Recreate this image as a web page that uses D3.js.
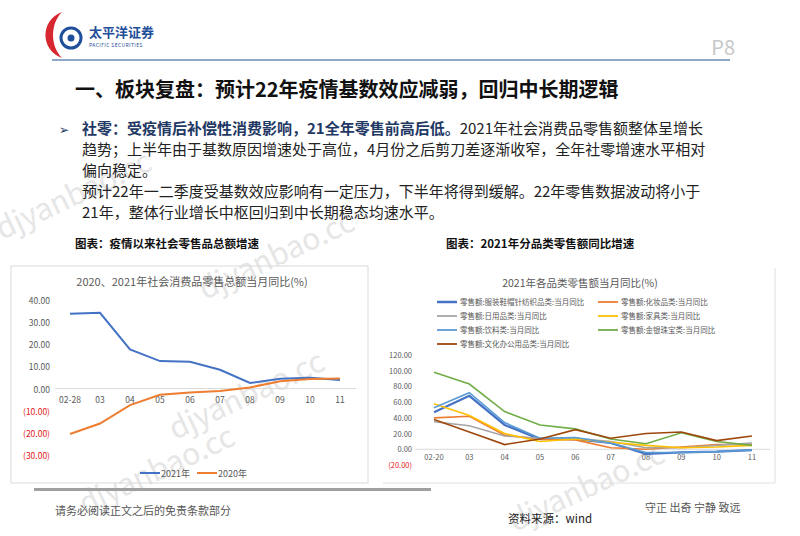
<!DOCTYPE html>
<html lang="zh">
<head>
<meta charset="UTF-8">
<title>板块复盘</title>
<script src="https://d3js.org/d3.v7.min.js"></script>
<style>
  body { margin: 0; background: #fff; }
  text { font-family: "Noto Sans CJK SC", "Noto Sans", sans-serif; }
</style>
</head>
<body>
<svg id="page" width="800" height="536"></svg>
<script>
  // 左图数据
  const monthsL = ["02-28", "03", "04", "05", "06", "07", "08", "09", "10", "11"];
  const y2021 = [33.8, 34.2, 17.7, 12.4, 12.1, 8.5, 2.5, 4.4, 4.9, 3.9];
  const y2020 = [-20.5, -15.8, -7.5, -2.8, -1.8, -1.1, 0.5, 3.3, 4.3, 4.6];
  const ticksL = [40, 30, 20, 10, 0, -10, -20, -30];

  // 右图数据
  const monthsR = ["02-20", "03", "04", "05", "06", "07", "08", "09", "10", "11"];
  const catNames = [
    "零售额:服装鞋帽针纺织品类:当月同比", "零售额:化妆品类:当月同比",
    "零售额:日用品类:当月同比", "零售额:家具类:当月同比",
    "零售额:饮料类:当月同比", "零售额:金银珠宝类:当月同比",
    "零售额:文化办公用品类:当月同比"
  ];
  const catColors = ["#4472c4", "#ed7d31", "#a5a5a5", "#ffc000", "#5b9bd5", "#70ad47", "#9e480e"];
  const catValues = [
    [47, 68, 31, 13, 13, 8, -6, -4, -3, -1],
    [40, 42, 18, 13, 12, 2, 0, 3, 6, 6],
    [35, 30, 17, 14, 14, 10, 2, 2, 5, 8],
    [58, 43, 20, 10, 13, 9, 5, 2, 3, 5],
    [53, 72, 34, 14, 15, 8, -4, -4, -3, -1],
    [98, 83, 48, 31, 26, 13, 7, 21, 10, 5],
    [38, 22, 6, 13, 25, 14, 20, 22, 11, 17]
  ];
  const ticksR = [120, 100, 80, 60, 40, 20, 0, -20];

  const svg = d3.select("#page");
  const fmt = v => v < 0 ? "(" + Math.abs(v).toFixed(2) + ")" : v.toFixed(2);

  // 水印
  [[2, 240], [205, 300], [175, 440], [85, 515], [515, 532]].forEach(([x, y]) => {
    svg.append("text").attr("transform", `translate(${x},${y}) rotate(-25)`)
      .attr("font-size", 30).attr("fill", "#e6e6e6").attr("font-family", "Arial, sans-serif")
      .text("djyanbao.cc");
  });

  // 页眉
  svg.append("path").attr("d", "M62,12 C40,20 40,50 62,58 C50,46 50,24 62,12Z").attr("fill", "#d7282f");
  svg.append("circle").attr("cx", 71).attr("cy", 38).attr("r", 10).attr("fill", "none").attr("stroke", "#1f4e9a").attr("stroke-width", 3);
  svg.append("circle").attr("cx", 71).attr("cy", 38).attr("r", 3.5).attr("fill", "#1f4e9a");
  svg.append("text").attr("x", 89).attr("y", 37).attr("font-size", 13).attr("font-weight", "bold").attr("fill", "#1f4e9a").text("太平洋证券");
  svg.append("text").attr("x", 89).attr("y", 47).attr("font-size", 5).attr("letter-spacing", 0.4).attr("fill", "#1f4e9a").text("PACIFIC SECURITIES");
  svg.append("text").attr("x", 735).attr("y", 55).attr("text-anchor", "end").attr("font-size", 20).attr("fill", "#c8c8c8").text("P8");
  svg.append("line").attr("x1", 52).attr("x2", 730).attr("y1", 60).attr("y2", 60).attr("stroke", "#8ea9c8").attr("stroke-width", 2);

  svg.append("text").attr("x", 75).attr("y", 97).attr("font-size", 20).attr("font-weight", "bold").attr("fill", "#111")
    .text("一、板块复盘：预计22年疫情基数效应减弱，回归中长期逻辑");

  // 正文
  svg.append("text").attr("x", 59).attr("y", 134).attr("font-size", 12).attr("fill", "#1f3864").text("➢");
  const body = svg.append("text").attr("font-size", 15).attr("fill", "#222");
  const l1 = body.append("tspan").attr("x", 82).attr("y", 134);
  l1.append("tspan").attr("font-weight", "bold").attr("fill", "#1f3864").text("社零：受疫情后补偿性消费影响，21全年零售前高后低。");
  l1.append("tspan").text("2021年社会消费品零售额整体呈增长");
  ["趋势；上半年由于基数原因增速处于高位，4月份之后剪刀差逐渐收窄，全年社零增速水平相对",
   "偏向稳定。",
   "预计22年一二季度受基数效应影响有一定压力，下半年将得到缓解。22年零售数据波动将小于",
   "21年，整体行业增长中枢回归到中长期稳态均速水平。"].forEach((t, i) => {
    body.append("tspan").attr("x", 82).attr("y", 155 + i * 21).text(t);
  });

  svg.append("text").attr("x", 75).attr("y", 248).attr("font-size", 11.5).attr("font-weight", "bold").attr("fill", "#111").text("图表：疫情以来社会零售品总额增速");
  svg.append("text").attr("x", 446).attr("y", 248).attr("font-size", 11.5).attr("font-weight", "bold").attr("fill", "#111").text("图表：2021年分品类零售额同比增速");

  // 左图
  svg.append("rect").attr("x", 11).attr("y", 266).attr("width", 357).attr("height", 217).attr("fill", "none").attr("stroke", "#d9d9d9");
  svg.append("text").attr("x", 192).attr("y", 286).attr("text-anchor", "middle").attr("font-size", 11).attr("fill", "#595959").text("2020、2021年社会消费品零售总额当月同比(%)");
  const xL = d3.scalePoint().domain(monthsL).range([70, 340]);
  const yL = d3.scaleLinear().domain([-30, 40]).range([455, 300]);
  ticksL.forEach(t => {
    svg.append("text").attr("x", 50).attr("y", yL(t) + 4).attr("text-anchor", "end").attr("font-size", 8.5)
      .attr("fill", t < 0 ? "#e02020" : "#595959").text(fmt(t));
  });
  svg.append("line").attr("x1", 55).attr("x2", 356).attr("y1", yL(0)).attr("y2", yL(0)).attr("stroke", "#d9d9d9");
  monthsL.forEach(m => svg.append("text").attr("x", xL(m)).attr("y", yL(0) + 14).attr("text-anchor", "middle").attr("font-size", 8.5).attr("fill", "#595959").text(m));
  const lineL = d3.line().x((d, i) => xL(monthsL[i])).y(d => yL(d));
  svg.append("path").attr("d", lineL(y2021)).attr("fill", "none").attr("stroke", "#4472c4").attr("stroke-width", 2);
  svg.append("path").attr("d", lineL(y2020)).attr("fill", "none").attr("stroke", "#ed7d31").attr("stroke-width", 2);
  [["2021年", "#4472c4", 140], ["2020年", "#ed7d31", 197]].forEach(([n, c, x]) => {
    svg.append("line").attr("x1", x).attr("x2", x + 20).attr("y1", 473).attr("y2", 473).attr("stroke", c).attr("stroke-width", 2);
    svg.append("text").attr("x", x + 21).attr("y", 477).attr("font-size", 9).attr("fill", "#595959").text(n);
  });

  // 右图
  svg.append("line").attr("x1", 383).attr("x2", 775).attr("y1", 483).attr("y2", 483).attr("stroke", "#e0e0e0");
  svg.append("line").attr("x1", 775).attr("x2", 775).attr("y1", 268).attr("y2", 483).attr("stroke", "#e0e0e0");
  svg.append("text").attr("x", 580).attr("y", 287).attr("text-anchor", "middle").attr("font-size", 10.5).attr("fill", "#595959").text("2021年各品类零售额当月同比(%)");
  catNames.forEach((n, i) => {
    const x = i % 2 === 0 ? 437 : 598, y = 302 + Math.floor(i / 2) * 14;
    svg.append("line").attr("x1", x).attr("x2", x + 20).attr("y1", y).attr("y2", y).attr("stroke", catColors[i]).attr("stroke-width", i === 0 ? 2.5 : 1.8);
    svg.append("text").attr("x", x + 23).attr("y", y + 3).attr("font-size", 7.5).attr("fill", "#595959").text(n);
  });
  const xR = d3.scalePoint().domain(monthsR).range([434, 752]);
  const yR = d3.scaleLinear().domain([-20, 120]).range([465, 355]);
  ticksR.forEach(t => {
    svg.append("text").attr("x", 412).attr("y", yR(t) + 3).attr("text-anchor", "end").attr("font-size", 7.5)
      .attr("fill", t < 0 ? "#e02020" : "#595959").text(fmt(t));
  });
  svg.append("line").attr("x1", 415).attr("x2", 770).attr("y1", yR(0)).attr("y2", yR(0)).attr("stroke", "#d9d9d9");
  monthsR.forEach(m => svg.append("text").attr("x", xR(m)).attr("y", yR(0) + 11).attr("text-anchor", "middle").attr("font-size", 7.5).attr("fill", "#595959").text(m));
  const lineR = d3.line().x((d, i) => xR(monthsR[i])).y(d => yR(d));
  catValues.forEach((v, i) => {
    svg.append("path").attr("d", lineR(v)).attr("fill", "none").attr("stroke", catColors[i]).attr("stroke-width", i === 0 ? 2.2 : 1.6);
  });

  // 页脚
  svg.append("rect").attr("x", 34).attr("y", 488).attr("width", 397).attr("height", 3).attr("fill", "#a0a0a0");
  svg.append("text").attr("x", 55).attr("y", 515).attr("font-size", 11).attr("fill", "#555").text("请务必阅读正文之后的免责条款部分");
  svg.append("text").attr("x", 508).attr("y", 523).attr("font-size", 11.5).attr("fill", "#222").text("资料来源：wind");
  svg.append("text").attr("x", 645).attr("y", 512).attr("font-size", 11).attr("fill", "#555").text("守正 出奇 宁静 致远");
</script>
</body>
</html>
